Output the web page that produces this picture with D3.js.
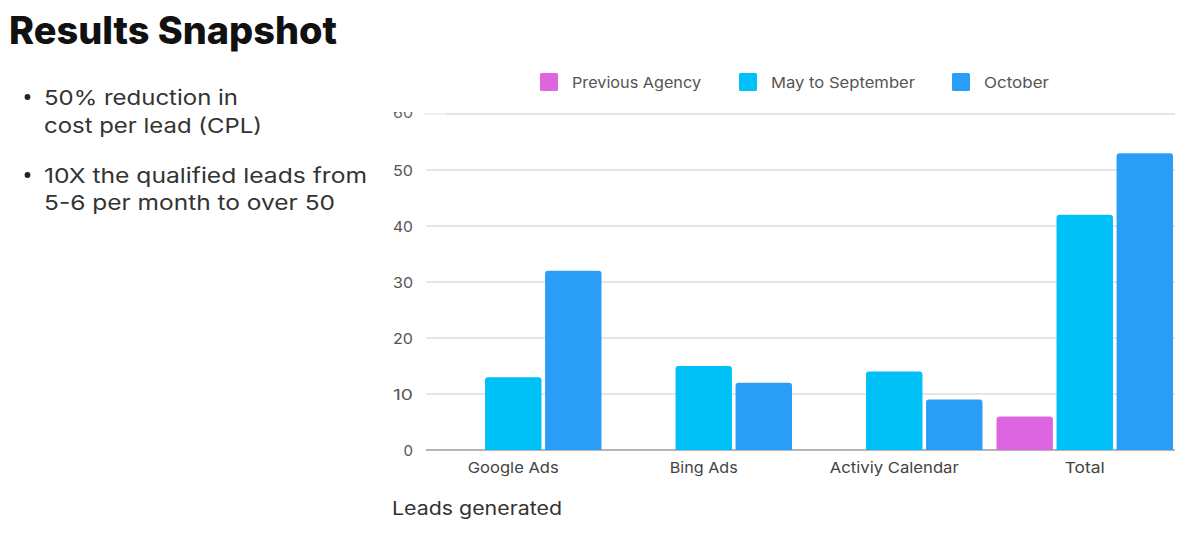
<!DOCTYPE html>
<html>
<head>
<meta charset="utf-8">
<script src="https://cdn.jsdelivr.net/npm/d3@7"></script>
<style>
  html, body { margin: 0; padding: 0; background: #fff; }
  svg { display: block; }
</style>
</head>
<body>
<svg id="chart" width="1189" height="540"></svg>
<script>
const title = "Results Snapshot";
const bullets = [
  ["50% reduction in", "cost per lead (CPL)"],
  ["10X the qualified leads from", "5-6 per month to over 50"]
];
const categories = ["Google Ads", "Bing Ads", "Activiy Calendar", "Total"];
const seriesNames = ["Previous Agency", "May to September", "October"];
const seriesColors = ["#dd66e0", "#00c0f8", "#2a9ef7"];
const previousAgency = [null, null, null, 6];
const mayToSeptember = [13, 15, 14, 42];
const october = [32, 12, 9, 53];
const yTicks = [0, 10, 20, 30, 40, 50, 60];
const xAxisTitle = "Leads generated";

const seriesValues = [previousAgency, mayToSeptember, october];

const svg = d3.select("#chart");
const font = "Inter, 'Noto Sans', sans-serif";

// stretch text to a target width (reference font is wider than Inter)
function fit(sel, w) {
  sel.attr("textLength", w).attr("lengthAdjust", "spacingAndGlyphs");
}

// Title
svg.append("text")
  .attr("x", 9).attr("y", 44)
  .attr("font-family", font).attr("font-weight", 800)
  .attr("font-size", 38).attr("fill", "#111")
  .text(title)
  .call(fit, 328);

// Bullets
const bulletBase = [105, 183];
const bulletLineGap = [28, 27];
const bulletWidths = [[194, 218], [323, 291]];
bullets.forEach((lines, i) => {
  const y0 = bulletBase[i];
  svg.append("circle").attr("cx", 27.5).attr("cy", y0 - 8).attr("r", 2.9).attr("fill", "#222");
  lines.forEach((ln, j) => {
    svg.append("text")
      .attr("x", 44).attr("y", y0 + j * bulletLineGap[i])
      .attr("font-family", font).attr("font-size", 20.5)
      .attr("fill", "#333")
      .text(ln)
      .call(fit, bulletWidths[i][j]);
  });
});

// Scales
const y = d3.scaleLinear().domain([0, 60]).range([450, 114]);
const x = d3.scaleBand().domain(categories).range([418, 1180]).padding(0);
const xInner = d3.scaleBand().domain(seriesNames).range([7, x.bandwidth() - 7]).paddingInner(0.06);

// Gridlines
const grid = svg.append("g");
yTicks.forEach(t => {
  grid.append("line")
    .attr("x1", t === 60 ? 446 : 426).attr("x2", 1175)
    .attr("y1", y(t)).attr("y2", y(t))
    .attr("stroke", t === 0 ? "#b5b5b5" : "#dcdcdc")
    .attr("stroke-width", t === 0 ? 2 : 1.5);
});
grid.append("line").attr("x1", 424).attr("x2", 446).attr("y1", y(60)).attr("y2", y(60))
  .attr("stroke", "#ececec").attr("stroke-width", 1.5);

// Y axis labels
const yAxis = d3.axisLeft(y).tickValues(yTicks.filter(t => t !== 60)).tickSize(0).tickPadding(0);
const yg = svg.append("g").attr("transform", "translate(413,0)").call(yAxis);
yg.select(".domain").remove();
yg.selectAll("text")
  .attr("font-family", font).attr("font-size", 15).attr("fill", "#555")
  .attr("dy", "0.36em");
yg.selectAll(".tick text").filter(d => d >= 10).each(function() {
  d3.select(this).call(fit, 20);
});
// top label: only its lower part is visible in the reference
svg.append("clipPath").attr("id", "topclip")
  .append("rect").attr("x", 380).attr("y", 112).attr("width", 40).attr("height", 20);
svg.append("text")
  .attr("x", 413).attr("y", y(60) - 1.5).attr("dy", "0.36em")
  .attr("text-anchor", "end")
  .attr("font-family", font).attr("font-size", 15).attr("fill", "#666")
  .attr("clip-path", "url(#topclip)")
  .text(yTicks[yTicks.length - 1])
  .call(fit, 20);

// Bars with rounded tops
function topRounded(x0, y0, w, h, r) {
  r = Math.min(r, h, w / 2);
  return `M${x0},${y0 + h}V${y0 + r}Q${x0},${y0} ${x0 + r},${y0}H${x0 + w - r}Q${x0 + w},${y0} ${x0 + w},${y0 + r}V${y0 + h}Z`;
}
const bars = svg.append("g");
categories.forEach((c, ci) => {
  seriesNames.forEach((s, si) => {
    const v = seriesValues[si][ci];
    if (v == null) return;
    const bx = x(c) + xInner(s);
    const by = y(v);
    bars.append("path")
      .attr("d", topRounded(bx, by, xInner.bandwidth(), y(0) - by, 3))
      .attr("fill", seriesColors[si]);
  });
});

// X axis labels
const xLabelWidths = { "Google Ads": 91, "Bing Ads": 68, "Activiy Calendar": 129, "Total": 40 };
const xAxis = d3.axisBottom(x).tickSize(0).tickPadding(0);
const xg = svg.append("g").attr("transform", "translate(0,473)").call(xAxis);
xg.select(".domain").remove();
xg.selectAll("text")
  .attr("font-family", font).attr("font-size", 15).attr("fill", "#444")
  .attr("y", 0).attr("dy", 0)
  .each(function(d) { d3.select(this).call(fit, xLabelWidths[d]); });

// X axis title
svg.append("text")
  .attr("x", 392).attr("y", 515)
  .attr("font-family", font).attr("font-size", 18.5).attr("fill", "#333")
  .text(xAxisTitle)
  .call(fit, 170);

// Legend
const legendX = [540, 739, 952];
const legendWidths = [129, 144, 65];
seriesNames.forEach((s, i) => {
  const g = svg.append("g").attr("transform", `translate(${legendX[i]},73)`);
  g.append("rect").attr("width", 18).attr("height", 18).attr("rx", 1.5).attr("fill", seriesColors[i]);
  g.append("text").attr("x", 32).attr("y", 15)
    .attr("font-family", font).attr("font-size", 15).attr("fill", "#555")
    .text(s)
    .call(fit, legendWidths[i]);
});
</script>
</body>
</html>
